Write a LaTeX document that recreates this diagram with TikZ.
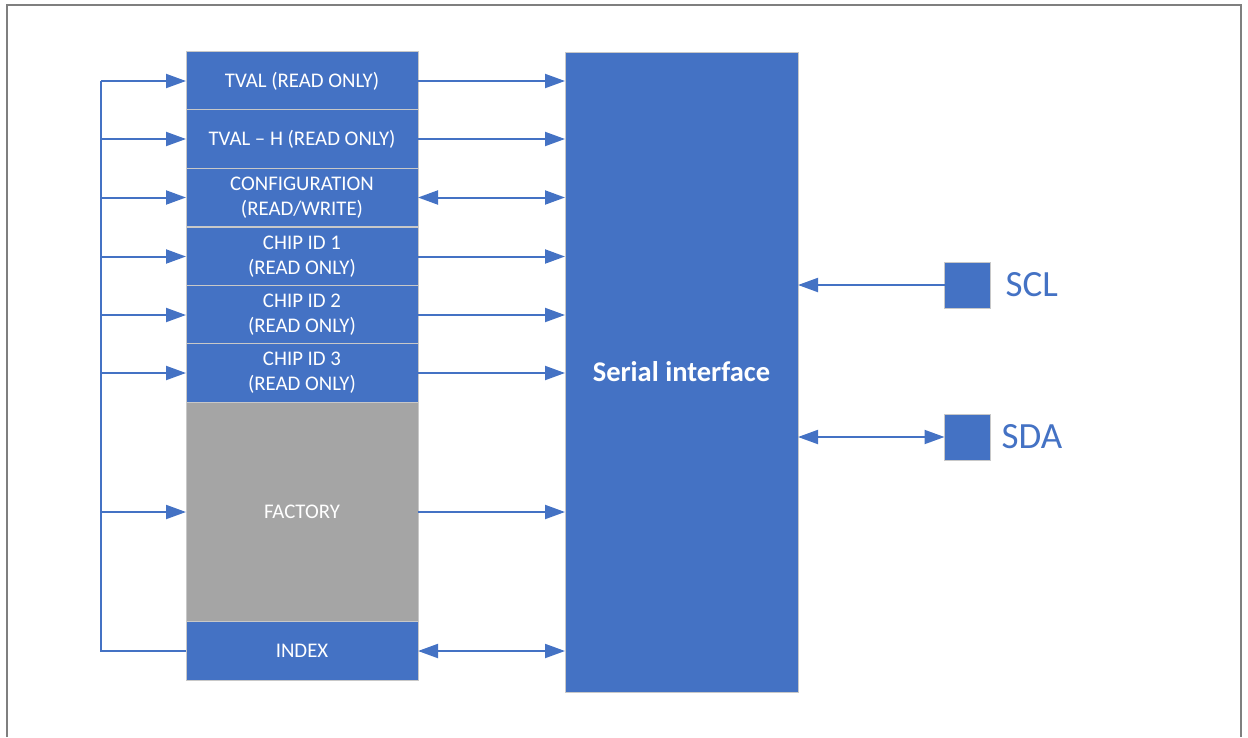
\documentclass[tikz,border=0pt]{standalone}
\usepackage{fontspec}
\setmainfont{Carlito}
\usetikzlibrary{positioning, arrows.meta}

\definecolor{regblue}{HTML}{4472C4}
\definecolor{factorygray}{HTML}{A5A5A5}
\definecolor{regline}{HTML}{C8C8C8}
\definecolor{framegray}{HTML}{7F7F7F}

\tikzset{
  reg/.style={draw=regline, line width=1pt, fill=regblue, text=white, minimum width=232pt,
    minimum height=58.5pt, inner sep=0pt, outer sep=0pt, align=center,
    font=\fontsize{20.8}{25}\selectfont},
  padbox/.style={draw=regline, line width=1pt, fill=regblue, minimum size=46pt, inner sep=0pt, outer sep=0pt},
  padlabel/.style={text=regblue, inner sep=0pt, font=\fontsize{37}{40}\selectfont},
  wire/.style={draw=regblue, line width=2pt},
  link/.style={wire, -{Triangle[length=20pt,width=14pt]}},
  twoway/.style={wire, {Triangle[length=20pt,width=14pt]}-{Triangle[length=20pt,width=14pt]}}
}

\begin{document}
\begin{tikzpicture}[x=1pt,y=-1pt]

\useasboundingbox (0,0) rectangle (1248,737);

% outer frame, open at the bottom
\draw[framegray, line width=2.5pt] (7,737) -- (7,5) -- (1241,5) -- (1241,737);

% register column
\node[reg] (tval) at (302,81) {TVAL (READ ONLY)};
\node[reg] (tvalh) at (302,139) {TVAL – H (READ ONLY)};
\node[reg] (config) at (302,197.5) {CONFIGURATION\\(READ/WRITE)};
\node[reg] (chipa) at (302,256.5) {CHIP ID 1\\(READ ONLY)};
\node[reg] (chipb) at (302,315) {CHIP ID 2\\(READ ONLY)};
\node[reg] (chipc) at (302,373) {CHIP ID 3\\(READ ONLY)};
\node[reg, fill=factorygray, minimum height=220pt] (factory) at (302,512) {FACTORY};
\node[reg] (index) at (302,651) {INDEX};

% serial interface block
\node[reg, minimum width=233pt, minimum height=640pt,
  font=\bfseries\fontsize{28.5}{32}\selectfont] (serial) at (681.5,372) {Serial interface};

% bus on the left
\coordinate (bustop) at (101,81);
\coordinate (busbot) at (101,651);
\draw[wire] (index.west) -- (busbot) -- (bustop);
\foreach \reg in {tval,tvalh,config,chipa,chipb,chipc,factory}
  \draw[link] (bustop |- \reg.west) -- (\reg.west);

% registers to serial interface
\foreach \reg in {tval,tvalh,chipa,chipb,chipc,factory}
  \draw[link] (\reg.east) -- (\reg.east -| serial.west);
\foreach \reg in {config,index}
  \draw[twoway] (\reg.east) -- (\reg.east -| serial.west);

% pins
\node[padbox] (scl) at (967.5,285) {};
\node[padbox] (sda) at (967.5,437) {};
\node[padlabel, right=15pt of scl] (scllabel) {SCL};
\node[padlabel, right=11pt of sda] (sdalabel) {SDA};

\draw[link] (scl.west) -- (scl.west -| serial.east);
\draw[twoway] (sda.west -| serial.east) -- (sda.west);

\end{tikzpicture}
\end{document}
